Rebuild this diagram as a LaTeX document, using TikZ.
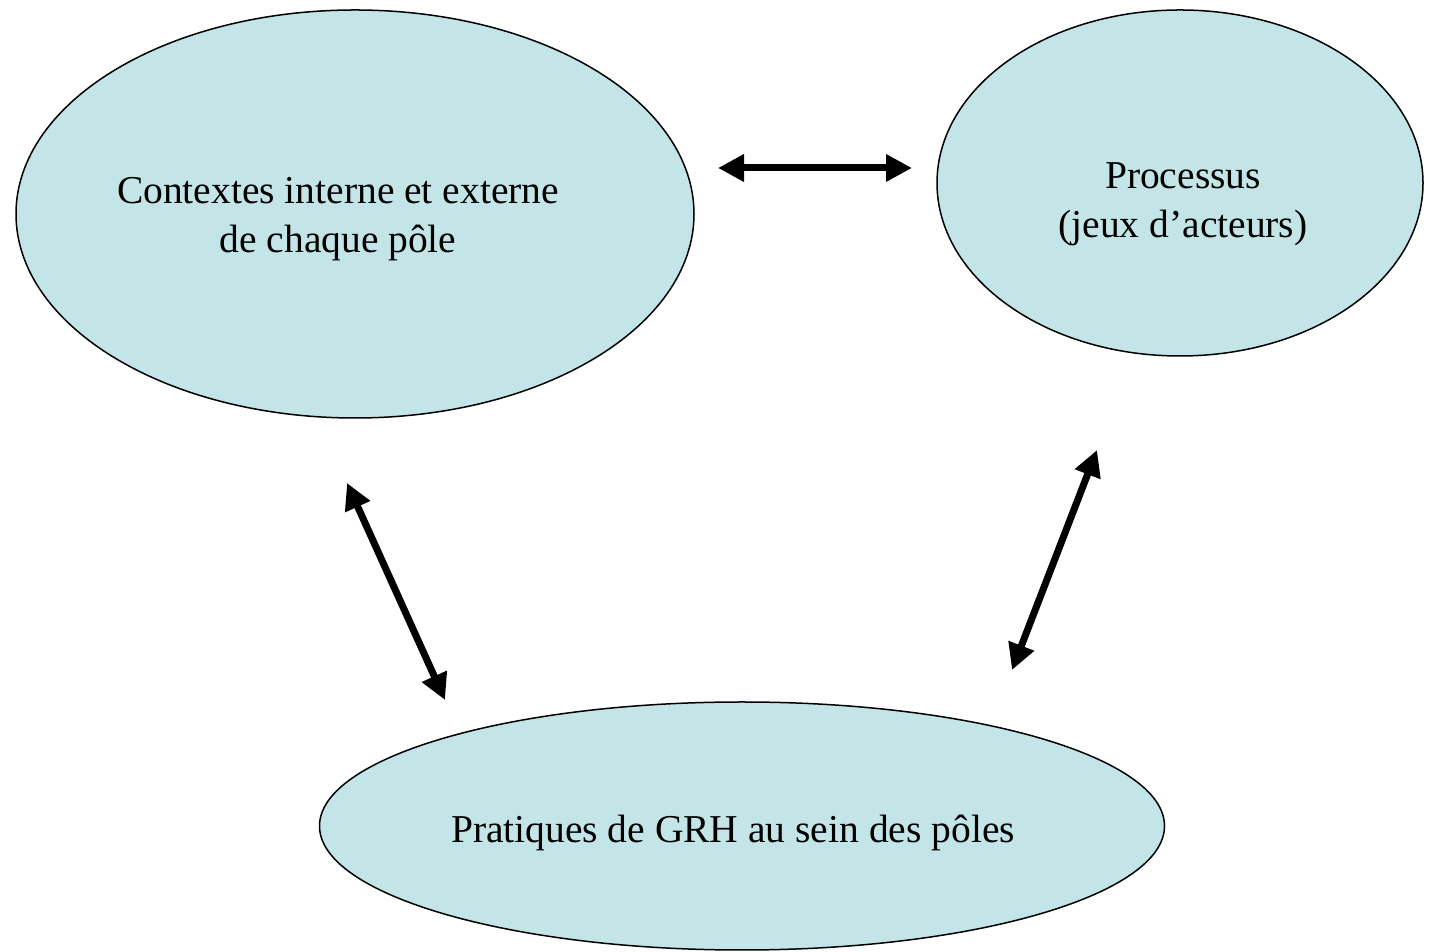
\documentclass[tikz,border=0pt]{standalone}
\usepackage{fontspec}
\setmainfont{Liberation Serif}
\usetikzlibrary{shapes.geometric,arrows.meta}
\definecolor{pole}{HTML}{C4E5E8}
\begin{document}
\begin{tikzpicture}[x=1pt,y=1pt,
  bubble/.style={ellipse,draw=black,line width=1.5pt,fill=pole,inner sep=0pt},
  lbl/.style={align=center,font=\fontsize{39.5}{49}\selectfont},
  dbl/.style={line width=7pt,{Triangle[length=26pt,width=26pt]}-{Triangle[length=26pt,width=26pt]}}]
\useasboundingbox (0,0) rectangle (1429,952);
\node[bubble,minimum width=678pt,minimum height=408pt] (ctx) at (355,738) {};
\node[bubble,minimum width=486pt,minimum height=346pt] (proc) at (1180,769) {};
\node[bubble,minimum width=845pt,minimum height=248pt] (grh) at (742,126) {};
\node[lbl] (tctx) at (338,733) {Contextes interne et externe\\de chaque pôle};
\node[lbl] (tproc) at (1183,748) {Processus\\(jeux d’acteurs)};
\node[lbl] (tgrh) at (733,119) {Pratiques de GRH au sein des pôles};
\coordinate (a1) at (718,784);
\coordinate (a2) at (912,784);
\coordinate (b1) at (347,469);
\coordinate (b2) at (445,252);
\coordinate (c1) at (1097,502);
\coordinate (c2) at (1012,282);
\draw[dbl] (a1) -- (a2);
\draw[dbl] (b1) -- (b2);
\draw[dbl] (c1) -- (c2);
\end{tikzpicture}
\end{document}
